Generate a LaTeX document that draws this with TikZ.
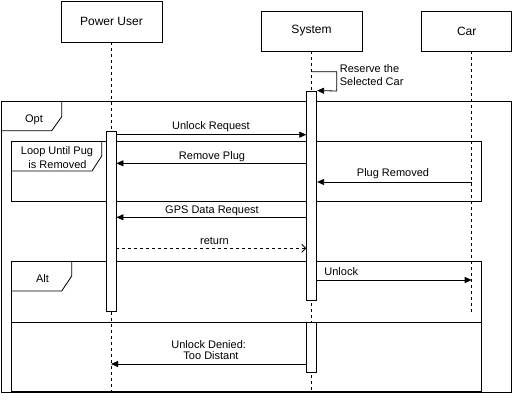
\documentclass[tikz,border=0pt]{standalone}
\usepackage{fontspec}
\setmainfont{Liberation Sans}
\usetikzlibrary{arrows.meta}
\begin{document}
\begin{tikzpicture}[x=1pt,y=-1pt,line width=0.8pt,
  actor/.style={draw,fill=white,inner sep=0pt,font=\fontsize{12}{14}\selectfont},
  actbar/.style={draw,fill=white,minimum width=10pt,inner sep=0pt},
  lifeline/.style={dash pattern=on 3pt off 3pt},
  msg/.style={-{Triangle[length=7pt,width=6pt]}},
  ret/.style={dash pattern=on 3pt off 3pt,-{Straight Barb[length=4pt,width=8pt]}},
  lbl/.style={font=\fontsize{11}{13}\selectfont,inner sep=0pt,align=center},
  bl/.style={lbl,anchor=base},
  frame/.style={draw}]
\useasboundingbox (0,0) rectangle (523,403);
% actors
\node[actor,minimum width=101pt,minimum height=41pt] (pu) at (111.5,21.5) {Power User};
\node[actor,minimum width=101pt,minimum height=40pt] (sys) at (311.5,31) {System};
\node[actor,minimum width=90pt,minimum height=40pt] (car) at (466.7,31) {Car};
% lifeline end coordinates
\coordinate (puend) at (111,391);
\coordinate (sysend) at (311.7,391);
\coordinate (carend) at (471.7,311.7);
\coordinate (cartop) at (471.7,51);
\draw[lifeline] (pu.south -| puend) -- (puend);
\draw[lifeline] (sys.south -| sysend) -- (sysend);
\draw[lifeline] (cartop) -- (carend);
% frames
\draw[frame] (1,101) rectangle (511,392.7);
\draw[frame] (1,130.7) -- (51.7,130.7) -- (61.7,116.7) -- (61.7,101);
\node[bl] (optl) at (34,122.3) {Opt};
\draw[frame] (11.7,141) rectangle (481.7,201);
\draw[frame] (11.7,171) -- (92,171) -- (101.7,156) -- (101.7,141);
\node[bl] (loopl1) at (57,155) {Loop Until Pug};
\node[bl] (loopl2) at (57.5,168.3) {is Removed};
\draw[frame] (11.7,261) rectangle (481.7,391);
\draw[frame] (11.7,322.3) -- (481.7,322.3);
\draw[frame] (11.7,291) -- (61.7,291) -- (71.7,276) -- (71.7,261);
\node[bl] (altl) at (42.5,283) {Alt};
% activation bars
\node[actbar,minimum height=209.7pt] (act1) at (311.7,195.85) {};
\node[actbar,minimum height=49.6pt] (act2) at (311.7,347.5) {};
\node[actbar,minimum width=9.5pt,minimum height=179.3pt] (act3) at (111.3,221.35) {};
% self message
\coordinate (s1) at (311.7,71.7);
\coordinate (s2) at (336.7,71.7);
\coordinate (s3) at (336.7,91);
\draw[msg] (sys.south |- s1) -- (s2) -- (s3) -- (act1.north east);
\node[lbl,anchor=base west] (selfl1) at (339.5,72.7) {Reserve the};
\node[lbl,anchor=base west] (selfl2) at (339.5,86) {Selected Car};
% message y coordinates
\coordinate (m1) at (0,134.7);
\coordinate (m2) at (0,163.3);
\coordinate (m3) at (0,182);
\coordinate (m4) at (0,217.3);
\coordinate (m5) at (0,248.3);
\coordinate (m6) at (0,280);
\coordinate (m7) at (0,364);
\draw[msg] (act3.east |- m1) -- (act1.west |- m1);
\node[bl] (l1) at (211,130) {Unlock Request};
\draw[msg] (act1.west |- m2) -- (act3.east |- m2);
\node[bl] (l2) at (212,160) {Remove Plug};
\draw[msg] (carend |- m3) -- (act1.east |- m3);
\node[bl] (l3) at (393,176.7) {Plug Removed};
\draw[msg] (act1.west |- m4) -- (act3.east |- m4);
\node[bl] (l4) at (212,213.3) {GPS Data Request};
\draw[ret] (act3.east |- m5) -- (act1.west |- m5);
\node[bl] (l5) at (214.5,244.3) {return};
\draw[msg] (act1.east |- m6) -- (carend |- m6);
\node[lbl,anchor=base west] (l6) at (324,276) {Unlock};
\draw[msg] (act2.west |- m7) -- (puend |- m7);
\node[bl] (l7a) at (208.7,348.3) {Unlock Denied:};
\node[bl] (l7b) at (211,360) {Too Distant};
\end{tikzpicture}
\end{document}
